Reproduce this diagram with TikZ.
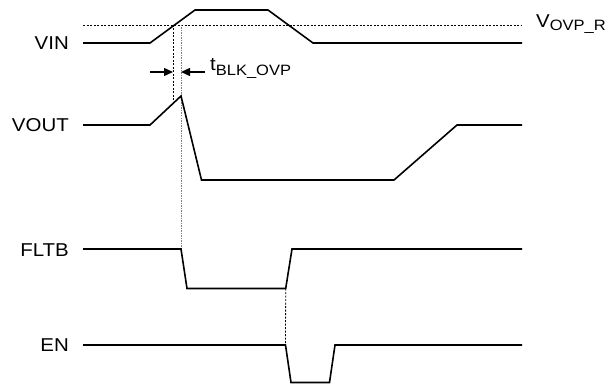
\documentclass[tikz,border=0pt]{standalone}
\usepackage{fontspec}
\setmainfont{Liberation Sans}
\newfontfamily\labfont[FakeStretch=1.1]{Liberation Sans}
\usetikzlibrary{arrows.meta}
\newcommand{\subtxt}[2]{\raisebox{-#1}{\fontsize{15}{16}\selectfont #2}}
\begin{document}
\begin{tikzpicture}[x=1pt,y=-1pt,
  sig/.style={line width=1.6pt, line join=miter},
  lbl/.style={anchor=east, inner sep=0pt, font=\labfont\fontsize{18.6}{20}\selectfont},
  sublbl/.style={anchor=base west, inner sep=0pt, font=\labfont\fontsize{18.6}{20}\selectfont},
  thr/.style={line width=0.8pt, dash pattern=on 2pt off 1.5pt},
  guide/.style={line width=0.8pt, dash pattern=on 2pt off 1.5pt},
  guidegrey/.style={line width=1pt, gray, dash pattern=on 1.5pt off 1pt},
  dim/.style={line width=1.4pt, -{Triangle[length=9pt,width=8pt]}}]
\useasboundingbox (0,0) rectangle (610,385);
% labels
\node[lbl] (vin) at (69,43) {VIN};
\node[lbl] (vout) at (69,125) {VOUT};
\node[lbl] (fltb) at (69,250) {FLTB};
\node[lbl] (en) at (69,345) {EN};
\node[sublbl] (vovp) at (536,27.7) {V\subtxt{2.5pt}{OVP\_R}};
\node[sublbl] (tblk) at (210,70.7) {t\subtxt{5pt}{BLK\_OVP}};
% key points
\coordinate (vin0) at (83,43);
\coordinate (vin1) at (150,43);
\coordinate (vin2) at (195,10);
\coordinate (vin3) at (268,10);
\coordinate (vin4) at (313,43);
\coordinate (vin5) at (522,43);
\coordinate (thr0) at (83,25);
\coordinate (thr1) at (522,25);
\coordinate (vo0) at (83,125);
\coordinate (vo1) at (150,125);
\coordinate (vo2) at (181,96);
\coordinate (vo3) at (201.5,180);
\coordinate (vo4) at (394,180);
\coordinate (vo5) at (457,125);
\coordinate (vo6) at (522,125);
\coordinate (fl0) at (83,249);
\coordinate (fl1) at (181,249);
\coordinate (fl2) at (187,288.5);
\coordinate (fl3) at (285.7,288.5);
\coordinate (fl4) at (292,249);
\coordinate (fl5) at (522,249);
\coordinate (en0) at (83,345);
\coordinate (en1) at (285.5,345);
\coordinate (en2) at (291,382.5);
\coordinate (en3) at (329.5,382.5);
\coordinate (en4) at (335,345);
\coordinate (en5) at (522,345);
\coordinate (g1t) at (173,25);
\coordinate (g1b) at (173,103.5);
\coordinate (g2t) at (181,25);
\coordinate (a1) at (150,72);
\coordinate (a1e) at (173,72);
\coordinate (a2) at (205,72);
\coordinate (a2e) at (181,72);
% threshold
\draw[thr] (thr0) -- (thr1);
% guides
\draw[guide] (g1t) -- (g1b);
\draw[guidegrey] (g2t) -- (fl1);
\draw[guide] (fl3) -- (en1);
% signals
\draw[sig] (vin0) -- (vin1) -- (vin2) -- (vin3) -- (vin4) -- (vin5);
\draw[sig] (vo0) -- (vo1) -- (vo2) -- (vo3) -- (vo4) -- (vo5) -- (vo6);
\draw[sig] (fl0) -- (fl1) -- (fl2) -- (fl3) -- (fl4) -- (fl5);
\draw[sig] (en0) -- (en1) -- (en2) -- (en3) -- (en4) -- (en5);
% dimension arrows
\draw[dim] (a1) -- (a1e);
\draw[dim] (a2) -- (a2e);
\end{tikzpicture}
\end{document}
